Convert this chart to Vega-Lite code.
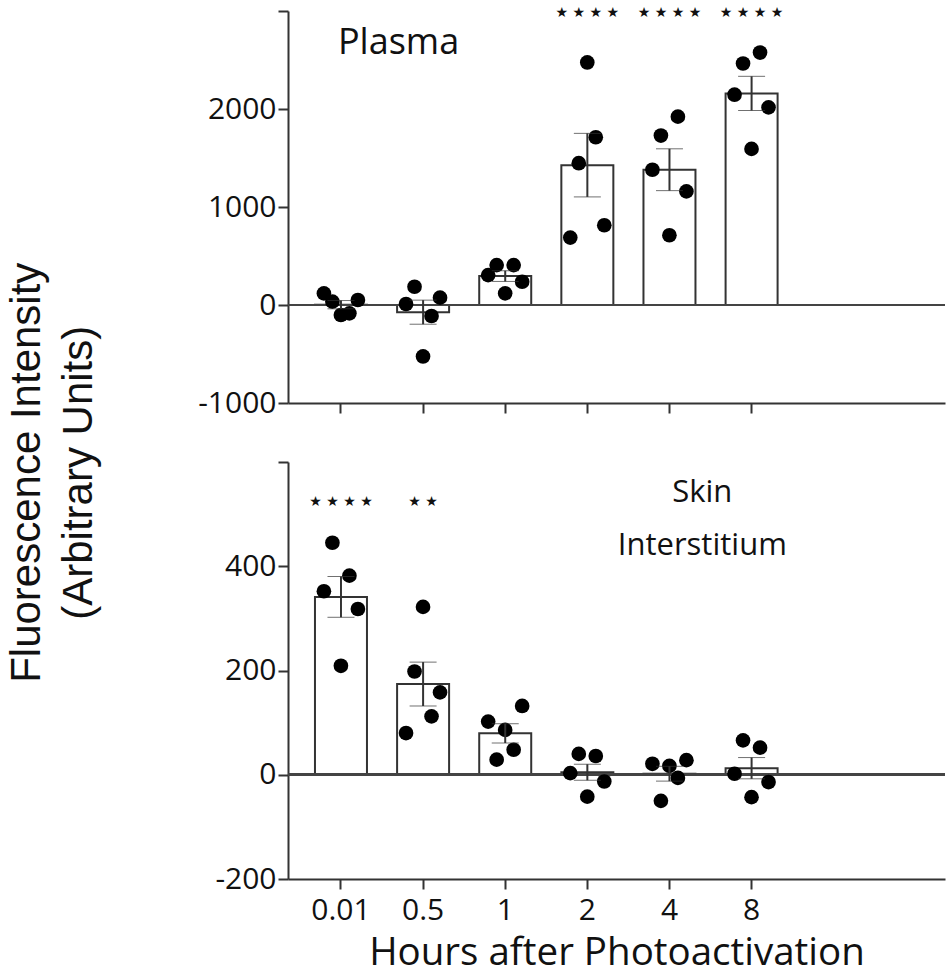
{
  "$schema": "https://vega.github.io/schema/vega-lite/v6.json",
  "background": "white",
  "padding": {"left": 5, "top": 5, "right": 4, "bottom": 0},
  "config": {
    "view": {"stroke": null},
    "axis": {
      "grid": false,
      "domainColor": "#333",
      "domainWidth": 2,
      "tickColor": "#333",
      "tickWidth": 2,
      "tickSize": 10,
      "labelFont": "Open Sans",
      "labelFontSize": 30,
      "labelColor": "#111",
      "titleFont": "Open Sans",
      "titleFontWeight": "normal",
      "titleColor": "#111"
    }
  },
  "title": {
    "text": ["Fluorescence Intensity", "(Arbitrary Units)"],
    "orient": "left",
    "anchor": "middle",
    "font": "Liberation Sans",
    "fontSize": 42,
    "fontWeight": "normal",
    "lineHeight": 52,
    "color": "#111",
    "offset": 97,
    "dx": 16
  },
  "spacing": 43,
  "datasets": {
    "plasma": [
      {"hours": "0.01", "rep": 1, "intensity": 119},
      {"hours": "0.01", "rep": 2, "intensity": 34},
      {"hours": "0.01", "rep": 3, "intensity": -102},
      {"hours": "0.01", "rep": 4, "intensity": -85},
      {"hours": "0.01", "rep": 5, "intensity": 51},
      {"hours": "0.5", "rep": 1, "intensity": 10},
      {"hours": "0.5", "rep": 2, "intensity": 186},
      {"hours": "0.5", "rep": 3, "intensity": -525},
      {"hours": "0.5", "rep": 4, "intensity": -112},
      {"hours": "0.5", "rep": 5, "intensity": 75},
      {"hours": "1", "rep": 1, "intensity": 305},
      {"hours": "1", "rep": 2, "intensity": 407},
      {"hours": "1", "rep": 3, "intensity": 119},
      {"hours": "1", "rep": 4, "intensity": 407},
      {"hours": "1", "rep": 5, "intensity": 237},
      {"hours": "2", "rep": 1, "intensity": 688},
      {"hours": "2", "rep": 2, "intensity": 1447},
      {"hours": "2", "rep": 3, "intensity": 2475},
      {"hours": "2", "rep": 4, "intensity": 1712},
      {"hours": "2", "rep": 5, "intensity": 814},
      {"hours": "4", "rep": 1, "intensity": 1380},
      {"hours": "4", "rep": 2, "intensity": 1729},
      {"hours": "4", "rep": 3, "intensity": 712},
      {"hours": "4", "rep": 4, "intensity": 1922},
      {"hours": "4", "rep": 5, "intensity": 1159},
      {"hours": "8", "rep": 1, "intensity": 2146},
      {"hours": "8", "rep": 2, "intensity": 2464},
      {"hours": "8", "rep": 3, "intensity": 1593},
      {"hours": "8", "rep": 4, "intensity": 2576},
      {"hours": "8", "rep": 5, "intensity": 2017}
    ],
    "skin": [
      {"hours": "0.01", "rep": 1, "intensity": 352},
      {"hours": "0.01", "rep": 2, "intensity": 445},
      {"hours": "0.01", "rep": 3, "intensity": 209},
      {"hours": "0.01", "rep": 4, "intensity": 382},
      {"hours": "0.01", "rep": 5, "intensity": 318},
      {"hours": "0.5", "rep": 1, "intensity": 80},
      {"hours": "0.5", "rep": 2, "intensity": 198},
      {"hours": "0.5", "rep": 3, "intensity": 322},
      {"hours": "0.5", "rep": 4, "intensity": 112},
      {"hours": "0.5", "rep": 5, "intensity": 158},
      {"hours": "1", "rep": 1, "intensity": 102},
      {"hours": "1", "rep": 2, "intensity": 29},
      {"hours": "1", "rep": 3, "intensity": 86},
      {"hours": "1", "rep": 4, "intensity": 48},
      {"hours": "1", "rep": 5, "intensity": 132},
      {"hours": "2", "rep": 1, "intensity": 3},
      {"hours": "2", "rep": 2, "intensity": 40},
      {"hours": "2", "rep": 3, "intensity": -42},
      {"hours": "2", "rep": 4, "intensity": 36},
      {"hours": "2", "rep": 5, "intensity": -13},
      {"hours": "4", "rep": 1, "intensity": 21},
      {"hours": "4", "rep": 2, "intensity": -50},
      {"hours": "4", "rep": 3, "intensity": 17},
      {"hours": "4", "rep": 4, "intensity": -6},
      {"hours": "4", "rep": 5, "intensity": 28},
      {"hours": "8", "rep": 1, "intensity": 2},
      {"hours": "8", "rep": 2, "intensity": 66},
      {"hours": "8", "rep": 3, "intensity": -43},
      {"hours": "8", "rep": 4, "intensity": 52},
      {"hours": "8", "rep": 5, "intensity": -14}
    ],
    "plasma_sig": [
      {"hours": "2", "label": "★ ★ ★ ★"},
      {"hours": "4", "label": "★ ★ ★ ★"},
      {"hours": "8", "label": "★ ★ ★ ★"}
    ],
    "skin_sig": [
      {"hours": "0.01", "label": "★ ★ ★ ★"},
      {"hours": "0.5", "label": "★ ★"}
    ]
  },
  "vconcat": [
    {
      "width": 657,
      "height": 392,
      "data": {"name": "plasma"},
      "resolve": {"scale": {"xOffset": "independent"}},
      "layer": [
        {
          "mark": {"type": "bar", "fill": "white", "stroke": "#333", "strokeWidth": 2, "width": 52},
          "encoding": {
            "x": {
              "field": "hours", "type": "nominal",
              "scale": {"domain": ["0.01", "0.5", "1", "2", "4", "8"], "paddingInner": 0, "paddingOuter": 1, "align": 0.0725},
              "axis": {"title": null, "labels": false, "ticks": true, "domain": true}
            },
            "y": {
              "aggregate": "mean", "field": "intensity", "type": "quantitative",
              "scale": {"domain": [-1000, 3000], "nice": false, "zero": false},
              "axis": {"title": null, "values": [-1000, 0, 1000, 2000, 3000], "labelExpr": "datum.value == 3000 ? '' : toString(datum.value)", "labelPadding": 2}
            }
          }
        },
        {
          "mark": {"type": "rule", "color": "#444", "strokeWidth": 2},
          "encoding": {"y": {"datum": 0}}
        },
        {
          "mark": {"type": "point", "filled": true, "color": "black", "opacity": 1, "size": 215},
          "encoding": {
            "x": {"field": "hours", "type": "nominal"},
            "xOffset": {"field": "rep", "type": "quantitative", "scale": {"domain": [1, 5], "range": [24, 58]}},
            "y": {"field": "intensity", "type": "quantitative"}
          }
        },
        {
          "mark": {"type": "errorbar", "extent": "stderr", "ticks": {"size": 27, "color": "#333", "strokeWidth": 2}, "rule": {"color": "#333", "strokeWidth": 2}},
          "encoding": {
            "x": {"field": "hours", "type": "nominal"},
            "y": {"field": "intensity", "type": "quantitative"}
          }
        },
        {
          "data": {"name": "plasma_sig"},
          "mark": {"type": "text", "font": "DejaVu Sans", "fontSize": 14, "baseline": "middle", "align": "center", "color": "#111"},
          "encoding": {
            "x": {"field": "hours", "type": "nominal"},
            "y": {"datum": 2980},
            "text": {"field": "label"}
          }
        },
        {
          "data": {"values": [{"name": "Plasma"}]},
          "mark": {"type": "text", "font": "Open Sans", "fontSize": 36, "align": "left", "baseline": "alphabetic", "color": "#111", "dx": 38},
          "encoding": {
            "x": {"datum": "0.01", "bandPosition": 0},
            "y": {"datum": 2563},
            "text": {"field": "name"}
          }
        }
      ]
    },
    {
      "width": 657,
      "height": 417,
      "data": {"name": "skin"},
      "resolve": {"scale": {"xOffset": "independent"}},
      "layer": [
        {
          "mark": {"type": "bar", "fill": "white", "stroke": "#333", "strokeWidth": 2, "width": 52},
          "encoding": {
            "x": {
              "field": "hours", "type": "nominal",
              "scale": {"domain": ["0.01", "0.5", "1", "2", "4", "8"], "paddingInner": 0, "paddingOuter": 1, "align": 0.0725},
              "axis": {"title": "Hours after Photoactivation", "titleFontSize": 38.5, "titlePadding": 9, "labelAngle": 0, "labelPadding": 6}
            },
            "y": {
              "aggregate": "mean", "field": "intensity", "type": "quantitative",
              "scale": {"domain": [-200, 600], "nice": false, "zero": false},
              "axis": {"title": null, "values": [-200, 0, 200, 400, 600], "labelExpr": "datum.value == 600 ? '' : toString(datum.value)", "labelPadding": 2}
            }
          }
        },
        {
          "mark": {"type": "rule", "color": "#444", "strokeWidth": 2},
          "encoding": {"y": {"datum": 0}}
        },
        {
          "mark": {"type": "point", "filled": true, "color": "black", "opacity": 1, "size": 215},
          "encoding": {
            "x": {"field": "hours", "type": "nominal"},
            "xOffset": {"field": "rep", "type": "quantitative", "scale": {"domain": [1, 5], "range": [24, 58]}},
            "y": {"field": "intensity", "type": "quantitative"}
          }
        },
        {
          "mark": {"type": "errorbar", "extent": "stderr", "ticks": {"size": 27, "color": "#333", "strokeWidth": 2}, "rule": {"color": "#333", "strokeWidth": 2}},
          "encoding": {
            "x": {"field": "hours", "type": "nominal"},
            "y": {"field": "intensity", "type": "quantitative"}
          }
        },
        {
          "data": {"name": "skin_sig"},
          "mark": {"type": "text", "font": "DejaVu Sans", "fontSize": 14, "baseline": "middle", "align": "center", "color": "#111"},
          "encoding": {
            "x": {"field": "hours", "type": "nominal"},
            "y": {"datum": 523},
            "text": {"field": "label"}
          }
        },
        {
          "data": {"values": [{"name": ["Skin", "Interstitium"]}]},
          "mark": {"type": "text", "font": "Open Sans", "fontSize": 31, "align": "center", "baseline": "alphabetic", "lineHeight": 53, "color": "#111"},
          "encoding": {
            "x": {"datum": "4", "bandPosition": 0.9},
            "y": {"datum": 523},
            "text": {"field": "name"}
          }
        }
      ]
    }
  ]
}
